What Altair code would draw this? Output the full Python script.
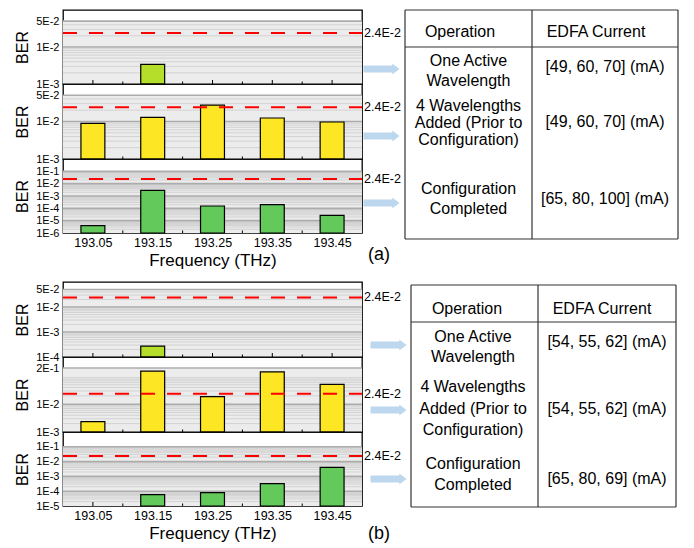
import math
import altair as alt
import pandas as pd

# ---------------- data ----------------
freq = [193.05, 193.15, 193.25, 193.35, 193.45]
mid_freq = [193.1, 193.2, 193.3, 193.4]

a_one = [None, 3.4e-3, None, None, None]
a_four = [8.9e-3, 1.29e-2, 2.75e-2, 1.24e-2, 9.7e-3]
a_conf = [3.9e-6, 2.9e-3, 1.55e-4, 2.0e-4, 2.7e-5]
b_one = [None, 2.7e-4, None, None, None]
b_four = [2.35e-3, 0.154, 1.87e-2, 0.145, 5.2e-2]
b_conf = [None, 5.8e-5, 7.9e-5, 3.2e-4, 4.1e-3]

threshold = 2.4e-2
threshold_label = "2.4E-2"

ticks_a12 = [1e-3, 1e-2, 5e-2]
labels_a12 = ["1E-3", "1E-2", "5E-2"]
ticks_a3 = [1e-6, 1e-5, 1e-4, 1e-3, 1e-2, 1e-1]
labels_a3 = ["1E-6", "1E-5", "1E-4", "1E-3", "1E-2", "1E-1"]
ticks_b1 = [1e-4, 1e-3, 1e-2, 5e-2]
labels_b1 = ["1E-4", "1E-3", "1E-2", "5E-2"]
ticks_b2 = [1e-3, 1e-2, 2e-1]
labels_b2 = ["1E-3", "1E-2", "2E-1"]
ticks_b3 = [1e-5, 1e-4, 1e-3, 1e-2, 1e-1]
labels_b3 = ["1E-5", "1E-4", "1E-3", "1E-2", "1E-1"]

headers = ["Operation", "EDFA Current"]
operations = [["One Active", "Wavelength"],
              ["4 Wavelengths", "Added (Prior to", "Configuration)"],
              ["Configuration", "Completed"]]
currents_a = ["[49, 60, 70] (mA)", "[49, 60, 70] (mA)", "[65, 80, 100] (mA)"]
currents_b = ["[54, 55, 62] (mA)", "[54, 55, 62] (mA)", "[65, 80, 69] (mA)"]

# ---------------- style / layout ----------------
W = 299
XDOM = [193.0, 193.5]
BAR_HALF = 0.02
LIME, YELLOW, GREEN = "#b5de2b", "#fde725", "#62c95a"
ARROW = "M-1,-0.19L0.6,-0.19L0.6,-0.31L1,0L0.6,0.31L0.6,0.19L-1,0.19Z"
ONE = pd.DataFrame({"k": [0]})

TA = dict(left=342, div=469, right=615, top=0, hdr=37, bottom=229, hx=[397, 533],
          c1=405.5, c2=542, hy=22, rows=[[51, 71], [96, 113, 130], [179, 199]], cy=[57, 112, 189])
TB = dict(left=348, div=475, right=613, top=3, hdr=40, bottom=225, hx=[404, 539],
          c1=410, c2=544, hy=27, rows=[[55, 75], [105, 127, 148], [182, 203]], cy=[60, 127, 197])


def label_expr(ticks, labels):
    expr = "''"
    for t, l in reversed(list(zip(ticks, labels))):
        expr = f"(abs(datum.value - {t!r}) < {t * 1e-6!r} ? '{l}' : {expr})"
    return expr


def pix_x(f="x"):
    return alt.X(f"{f}:Q", scale=None, axis=None)


def pix_y(f="y"):
    return alt.Y(f"{f}:Q", scale=None, axis=None)


def table_layers(L, currents):
    segs = pd.DataFrame(
        [(L["left"], L["top"], L["right"], L["top"]),
         (L["left"], L["bottom"], L["right"], L["bottom"]),
         (L["left"], L["top"], L["left"], L["bottom"]),
         (L["right"], L["top"], L["right"], L["bottom"]),
         (L["div"], L["top"], L["div"], L["bottom"]),
         (L["left"], L["hdr"], L["right"], L["hdr"])],
        columns=["x", "y", "x2", "y2"])
    lines = alt.Chart(segs).mark_rule(color="#333333", strokeWidth=1.2).encode(
        x=pix_x(), x2="x2:Q", y=pix_y(), y2="y2:Q")
    rows = [(headers[0], L["hx"][0], L["hy"]), (headers[1], L["hx"][1], L["hy"])]
    for r, lns in enumerate(operations):
        for t, y in zip(lns, L["rows"][r]):
            rows.append((t, L["c1"], y))
    for r, c in enumerate(currents):
        rows.append((c, L["c2"], L["cy"][r]))
    texts = alt.Chart(pd.DataFrame(rows, columns=["t", "x", "y"])).mark_text(
        fontSize=16, align="center", baseline="middle", color="black").encode(
        x=pix_x(), y=pix_y(), text="t:N")
    return [lines, texts]


def panel(values, color, dom, ticks, labels, h, arrow_x, arrow_y, show_x, extra=()):
    yscale = alt.Scale(type="log", domain=dom, nice=False)
    xscale = alt.Scale(domain=XDOM, nice=False, zero=False)
    lo, top = dom[0], ticks[-1]
    minors = []
    e = math.floor(math.log10(lo) + 1e-9)
    while 10 ** e < top:
        for m in range(2, 10):
            v = m * 10 ** e
            if lo * 1.001 < v < top * 0.999:
                minors.append(v)
        e += 1
    majors = [t for t in ticks if t > lo * 1.001]

    yaxis = alt.Axis(values=ticks, labelExpr=label_expr(ticks, labels), title="BER",
                     titleFontSize=16, titleFontWeight="normal", titleX=-41, titleY=h / 2,
                     titleAngle=270, titleBaseline="middle", titleAlign="center",
                     labelFontSize=11, labelPadding=4, ticks=False, tickSize=0, domain=False,
                     grid=False, labelOverlap=False, labelFlush=False,
                     labelColor="black", titleColor="black")
    if show_x:
        xaxis = alt.Axis(values=freq, format=".2f", title="Frequency (THz)", titleFontSize=17,
                         titleFontWeight="normal", titleX=W / 2, titleY=27.5,
                         titleBaseline="middle", titleAlign="center",
                         labelFontSize=12.5, labelPadding=3, ticks=False, tickSize=0,
                         domain=False, grid=False, labelFlush=False,
                         labelColor="black", titleColor="black")
    else:
        xaxis = None

    def Y(field):
        return alt.Y(field, scale=yscale, axis=yaxis)

    def X(field):
        return alt.X(field, scale=xscale, axis=xaxis)

    fill = alt.Chart(ONE).mark_rect(color="#ececec").encode(
        x=alt.value(0), x2=alt.value(W),
        y=alt.YDatum(lo, scale=yscale, axis=yaxis), y2=alt.Y2Datum(top))
    minor = alt.Chart(pd.DataFrame({"v": minors})).mark_rule(color="#d2d2d2", strokeWidth=1).encode(
        y=Y("v:Q"), x=alt.value(0), x2=alt.value(W))
    major = alt.Chart(pd.DataFrame({"v": majors})).mark_rule(color="#acacac", strokeWidth=1.6).encode(
        y=Y("v:Q"), x=alt.value(0), x2=alt.value(W))
    tick_major = alt.Chart(pd.DataFrame({"t": freq})).mark_rule(color="black", strokeWidth=1).encode(
        x=X("t:Q"), y=alt.value(h), y2=alt.value(h - 4))
    tick_minor = alt.Chart(pd.DataFrame({"t": mid_freq})).mark_rule(color="black", strokeWidth=1).encode(
        x=X("t:Q"), y=alt.value(h), y2=alt.value(h - 2.5))

    df = pd.DataFrame({"f": freq, "BER": values}).dropna()
    bars = alt.Chart(df).transform_calculate(
        x0=f"datum.f - {BAR_HALF}", x1=f"datum.f + {BAR_HALF}"
    ).mark_bar(fill=color, stroke="black", strokeWidth=1.2).encode(
        x=X("x0:Q"), x2="x1:Q", y=Y("BER:Q"), y2=alt.Y2Datum(lo))
    thr_df = pd.DataFrame({"v": [threshold], "t": [threshold_label]})
    red = alt.Chart(thr_df).mark_rule(color="#ff0000", strokeWidth=2, strokeDash=[14, 12]).encode(
        y=Y("v:Q"), x=alt.value(0), x2=alt.value(W))
    thr = alt.Chart(thr_df).mark_text(align="left", baseline="middle", fontSize=12.5, color="black").encode(
        x=alt.value(W + 2), y=Y("v:Q"), text="t:N")
    arrow = alt.Chart(ONE).mark_point(shape=ARROW, filled=True, color="#bdd7ee", opacity=1,
                                      size=36 * 36, strokeWidth=0).encode(
        x=alt.value(arrow_x), y=alt.value(arrow_y))
    return alt.layer(fill, minor, major, tick_major, tick_minor, bars, red, thr, arrow,
                     *extra).properties(width=W, height=h)


def tag(text, x, y):
    return alt.Chart(pd.DataFrame({"t": [text], "x": [x], "y": [y]})).mark_text(
        fontSize=18, align="center", baseline="middle", color="black").encode(
        x=pix_x(), y=pix_y(), text="t:N")


AXA = W + 19.5
AXB = W + 26.5

p1a = panel(a_one, LIME, [1e-3, 1e-1], ticks_a12, labels_a12, 74, AXA, 59, False,
            table_layers(TA, currents_a))
p2a = panel(a_four, YELLOW, [1e-3, 1e-1], ticks_a12, labels_a12, 75, AXA, 52, False)
p3a = panel(a_conf, GREEN, [1e-6, 1.0], ticks_a3, labels_a3, 74, AXA, 44, True,
            [tag("(a)", 316, 96)])
spacer = alt.Chart(ONE).mark_point(opacity=0).encode(
    x=alt.value(0), y=alt.value(0)).properties(
    width=W, height=49, view=alt.ViewBackground(stroke="transparent"))
p1b = panel(b_one, LIME, [1e-4, 1e-1], ticks_b1, labels_b1, 75, AXB, 63, False,
            table_layers(TB, currents_b))
p2b = panel(b_four, YELLOW, [1e-3, 0.5], ticks_b2, labels_b2, 75, AXB, 53, False)
p3b = panel(b_conf, GREEN, [1e-5, 1.0], ticks_b3, labels_b3, 74, AXB, 47, True,
            [tag("(b)", 316, 102)])

chart = alt.vconcat(p1a, p2a, p3a, spacer, p1b, p2b, p3b, spacing=0, bounds="flush").properties(
    padding={"left": 5, "top": 0, "right": 5, "bottom": 0}
).configure(font="Liberation Sans").configure_view(stroke="black", strokeWidth=1.3)

chart.save("out.html", embed_options={"renderer": "svg", "actions": False})
